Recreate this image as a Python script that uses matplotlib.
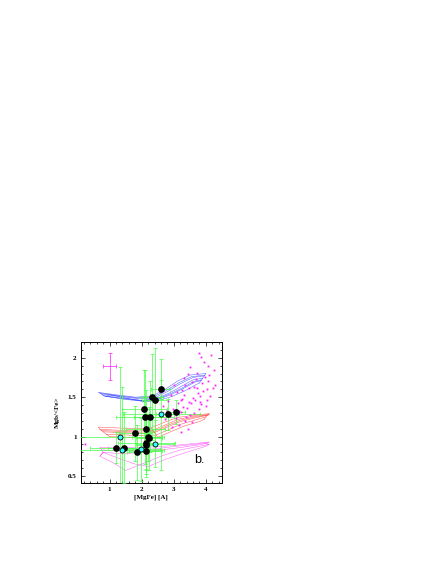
import matplotlib
matplotlib.use("Agg")
import matplotlib.pyplot as plt
from matplotlib.ticker import MultipleLocator

# ---------------- data ----------------
black_x = [2.59, 2.33, 2.42, 2.08, 2.11, 2.25, 2.81, 3.06, 2.12, 1.79, 2.19, 2.22, 2.15, 2.15, 1.20, 1.44, 1.84, 2.12]
black_y = [1.60, 1.50, 1.47, 1.35, 1.25, 1.25, 1.28, 1.31, 1.09, 1.04, 0.99, 0.98, 0.92, 0.89, 0.86, 0.86, 0.80, 0.82]
black_xerr = [0.30, 0.35, 0.40, 0.70, 0.90, 0.50, 0.35, 0.30, 0.60, 0.50, 0.50, 0.40, 0.90, 0.30, 0.80, 0.50, 0.30, 0.50]
black_yerr = [0.12, 0.55, 0.65, 0.50, 0.60, 0.45, 0.20, 0.15, 0.50, 0.35, 0.30, 0.40, 0.35, 0.40, 0.20, 0.45, 0.35, 0.30]

cyan_x = [1.32, 2.61, 1.39, 1.98, 2.42]
cyan_y = [1.00, 1.28, 0.83, 0.84, 0.91]
cyan_xerr = [1.30, 1.20, 1.30, 0.60, 0.60]
cyan_yerr = [0.88, 0.70, 0.80, 0.40, 0.30]

mag_x = [3.78, 3.84, 4.17, 3.93, 4.06, 4.26, 3.52, 3.71, 3.44, 3.33, 3.57, 3.69, 3.97, 4.08, 4.29,
         3.36, 3.63, 3.88, 4.02, 4.21, 3.27, 3.46, 3.74, 3.91, 4.14, 3.31, 3.61, 3.83, 4.03, 3.22,
         3.49, 3.67, 3.86, 3.12, 3.29, 3.53, 3.79, 3.99, 3.16, 3.42, 3.64, 2.97, 3.24, 3.51, 2.87,
         3.07, 3.34, 2.73, 3.58, 3.17, 2.94, 3.43, 3.21, 2.66, 2.83, 2.56, 3.11, 3.02, 2.91, 0.24,
         3.72, 4.11, 3.39, 3.81, 2.78, 3.26]
mag_y = [2.06, 2.01, 2.04, 1.94, 1.90, 1.85, 1.88, 1.81, 1.79, 1.74, 1.69, 1.73, 1.76, 1.70, 1.66,
         1.66, 1.63, 1.68, 1.60, 1.62, 1.59, 1.61, 1.55, 1.58, 1.52, 1.53, 1.49, 1.51, 1.46, 1.47,
         1.44, 1.47, 1.41, 1.43, 1.38, 1.42, 1.35, 1.39, 1.33, 1.36, 1.30, 1.35, 1.31, 1.27, 1.26,
         1.23, 1.20, 1.22, 1.18, 1.15, 1.12, 1.09, 1.06, 1.39, 1.45, 1.57, 1.56, 1.66, 1.53, 0.91,
         1.62, 1.78, 1.25, 1.44, 1.33, 1.48]

ref_x, ref_y, ref_xerr, ref_yerr = 1.0, 1.89, 0.19, 0.17

blue_tracks_x = [
    [0.66, 1.2, 1.8, 2.3, 2.7, 3.1, 3.5, 4.0],
    [0.70, 1.25, 1.85, 2.35, 2.75, 3.15, 3.55, 3.97],
    [0.75, 1.3, 1.9, 2.4, 2.8, 3.2, 3.6, 3.95],
    [0.80, 1.4, 2.0, 2.45, 2.85, 3.25, 3.6, 3.9],
    [0.86, 1.45, 2.02, 2.48, 2.88, 3.28, 3.63, 3.87],
    [0.90, 1.5, 2.05, 2.5, 2.9, 3.3, 3.65, 3.85],
    [1.00, 1.6, 2.1, 2.55, 2.95, 3.35, 3.7, 3.8],
]
blue_tracks_y = [
    [1.56, 1.53, 1.50, 1.51, 1.59, 1.70, 1.78, 1.80],
    [1.55, 1.52, 1.49, 1.50, 1.58, 1.68, 1.76, 1.78],
    [1.54, 1.51, 1.48, 1.49, 1.57, 1.67, 1.75, 1.77],
    [1.52, 1.49, 1.46, 1.48, 1.55, 1.64, 1.72, 1.74],
    [1.51, 1.48, 1.455, 1.475, 1.54, 1.62, 1.70, 1.72],
    [1.51, 1.47, 1.45, 1.47, 1.53, 1.61, 1.69, 1.71],
    [1.53, 1.48, 1.44, 1.46, 1.51, 1.58, 1.66, 1.68],
]
red_tracks_x = [
    [0.65, 1.2, 1.8, 2.3, 2.7, 3.1, 3.6, 4.1],
    [0.70, 1.3, 1.9, 2.35, 2.75, 3.15, 3.65, 4.1],
    [0.75, 1.35, 1.95, 2.38, 2.78, 3.18, 3.68, 4.08],
    [0.80, 1.4, 2.0, 2.4, 2.8, 3.2, 3.7, 4.05],
    [0.90, 1.5, 2.1, 2.45, 2.85, 3.25, 3.75, 4.0],
    [1.00, 1.6, 2.2, 2.5, 2.9, 3.3, 3.8, 3.95],
]
red_tracks_y = [
    [1.12, 1.11, 1.10, 1.11, 1.18, 1.24, 1.27, 1.29],
    [1.09, 1.08, 1.07, 1.08, 1.15, 1.22, 1.26, 1.28],
    [1.075, 1.065, 1.055, 1.065, 1.135, 1.205, 1.25, 1.275],
    [1.06, 1.05, 1.04, 1.05, 1.12, 1.19, 1.24, 1.27],
    [1.03, 1.02, 1.01, 1.02, 1.09, 1.16, 1.22, 1.25],
    [1.00, 0.99, 0.98, 0.99, 1.06, 1.13, 1.19, 1.22],
]
mag_tracks_x = [
    [0.70, 1.3, 1.9, 2.5, 3.1, 3.6, 4.1],
    [0.75, 1.35, 1.95, 2.55, 3.15, 3.65, 4.05],
    [0.80, 1.4, 2.0, 2.6, 3.2, 3.7, 4.0],
    [0.70, 1.1, 1.5, 2.0, 2.6, 3.2, 4.1],
    [0.80, 1.3, 1.8, 2.2, 2.8, 3.4, 3.95],
]
mag_tracks_y = [
    [0.86, 0.86, 0.86, 0.87, 0.89, 0.91, 0.93],
    [0.83, 0.82, 0.83, 0.85, 0.88, 0.90, 0.92],
    [0.80, 0.78, 0.80, 0.83, 0.86, 0.89, 0.91],
    [0.75, 0.67, 0.57, 0.65, 0.75, 0.83, 0.90],
    [0.80, 0.72, 0.65, 0.62, 0.72, 0.80, 0.87],
]

# ---------------- figure ----------------
plt.rcParams['font.family'] = ['Liberation Serif', 'DejaVu Serif']
fig = plt.figure(figsize=(4.36, 5.64), dpi=100)
ax = fig.add_axes([0.185, 0.1436, 0.324, 0.25])

def draw_grid(tx, ty, color, cross_idx):
    for xs, ys in zip(tx, ty):
        ax.plot(xs, ys, color=color, lw=0.35, alpha=0.8)
    for j in cross_idx:
        ax.plot([t[j] for t in tx], [t[j] for t in ty], color=color, lw=0.35, alpha=0.8)

draw_grid(blue_tracks_x, blue_tracks_y, '#2030ff', [0, 3, 7])
draw_grid(red_tracks_x, red_tracks_y, '#ff2020', [0, 3, 7])
draw_grid(mag_tracks_x, mag_tracks_y, '#ff30ff', [0, 6])

ax.errorbar(black_x, black_y, xerr=black_xerr, yerr=black_yerr, fmt='none',
            ecolor='#44ff44', elinewidth=0.5, capsize=1.3, capthick=0.5, zorder=3)
ax.errorbar(cyan_x, cyan_y, xerr=cyan_xerr, yerr=cyan_yerr, fmt='none',
            ecolor='#44ff44', elinewidth=0.5, capsize=1.3, capthick=0.5, zorder=3)

ax.plot(mag_x, mag_y, 's', color='#ff20ff', ms=1.3, mec='none', zorder=4)

ax.errorbar([ref_x], [ref_y], xerr=[ref_xerr], yerr=[ref_yerr], fmt='none',
            ecolor='#ff40ff', elinewidth=0.6, capsize=1.5, capthick=0.6, zorder=4)

ax.plot(black_x, black_y, 'o', color='black', ms=3.8, zorder=5)
ax.plot(cyan_x, cyan_y, 'o', mfc='#33ffff', mec='black', mew=0.6, ms=3.6, zorder=6)

ax.text(3.62, 0.66, 'b.', fontsize=9, family=['Liberation Sans', 'DejaVu Sans'])

ax.set_xlim(0.1, 4.5)
ax.set_ylim(0.41, 2.2)
ax.xaxis.set_major_locator(MultipleLocator(1))
ax.xaxis.set_minor_locator(MultipleLocator(0.2))
ax.yaxis.set_major_locator(MultipleLocator(0.5))
ax.yaxis.set_minor_locator(MultipleLocator(0.1))
ax.tick_params(which='both', direction='in', top=True, right=True, labelsize=5, width=0.5)
ax.tick_params(which='major', length=3, pad=3)
ax.tick_params(which='minor', length=1.5)
ax.set_yticks([0.5, 1, 1.5, 2])
ax.set_yticklabels(['0.5', '1', '1.5', '2'])
for lbl in ax.get_xticklabels() + ax.get_yticklabels():
    lbl.set_fontweight('bold')
for s in ax.spines.values():
    s.set_linewidth(0.7)

ax.set_xlabel('[MgFe] [A]', fontsize=5, labelpad=2, fontweight='bold')
ax.set_ylabel('Mgb/<Fe>', fontsize=5, labelpad=6, fontweight='bold')

fig.savefig('out.png', dpi=100)
